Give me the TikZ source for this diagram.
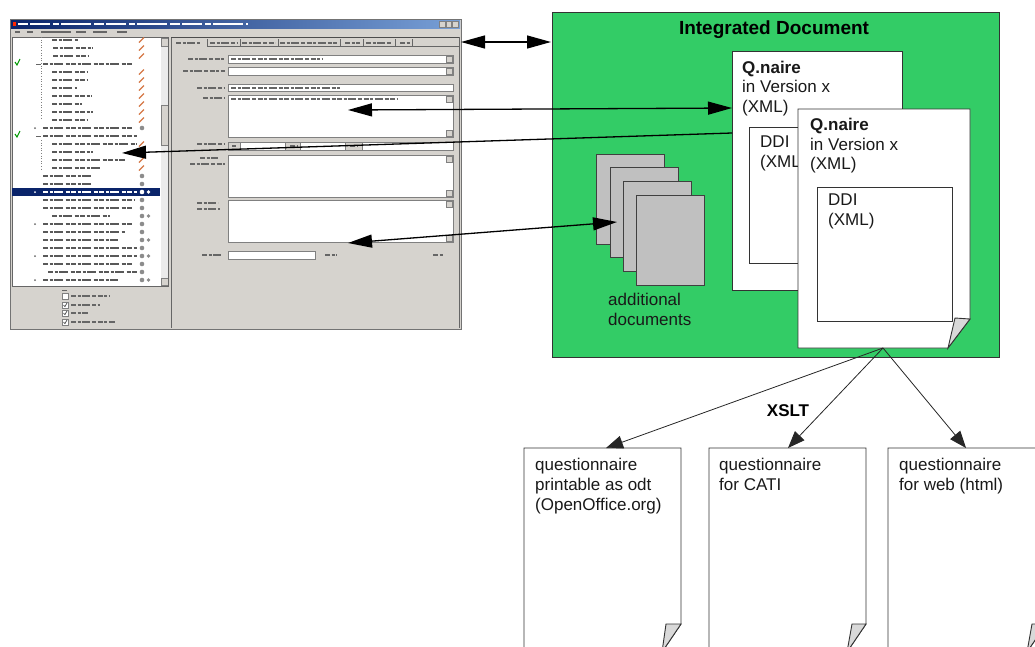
\documentclass[tikz,border=0pt]{standalone}
\usepackage{fontspec}
\setmainfont{Liberation Sans}
\usetikzlibrary{arrows.meta}
\definecolor{docgreen}{RGB}{51,204,102}
\definecolor{winbg}{RGB}{214,211,206}
\definecolor{navy}{RGB}{10,36,106}
\definecolor{ltblue}{RGB}{120,160,215}
\definecolor{pencilc}{RGB}{214,120,70}
\definecolor{docgray}{RGB}{192,192,192}
\definecolor{foldgray}{RGB}{217,217,217}
\tikzset{
 lbl/.style={font=\fontsize{17}{20}\selectfont, anchor=base west, inner sep=0pt, text=black!90},
 lblb/.style={lbl, font=\fontsize{17}{20}\selectfont\bfseries},
 page/.style={draw=black!80, line width=0.9pt, fill=white},
 foldc/.style={draw=black!80, line width=0.9pt, fill=foldgray},
 bigone/.style={line width=1.3pt, -{Triangle[length=24pt,width=13pt]}},
 bigboth/.style={line width=1.3pt, {Triangle[length=24pt,width=13pt]}-{Triangle[length=24pt,width=13pt]}},
 thinarr/.style={line width=0.8pt, draw=black!85, -{Triangle[length=17pt,width=13pt]}},
 txt/.style={line width=2.6pt, draw=black!65, dash pattern=on 5pt off 1.5pt on 3pt off 1.5pt on 9pt off 2.5pt on 4pt off 1.5pt},
 stxt/.style={line width=2pt, draw=black!60, dash pattern=on 5pt off 1.5pt on 3pt off 1.5pt on 8pt off 2pt on 4pt off 1.5pt},
 field/.style={draw=black!50, line width=0.6pt, fill=white},
 btn/.style={draw=black!50, line width=0.5pt, fill=winbg},
 gdoc/.style={draw=black!75, line width=0.9pt, fill=docgray, minimum width=68pt, minimum height=90pt, anchor=north west, inner sep=0pt},
}
\begin{document}
\begin{tikzpicture}[x=1pt,y=-1pt]
\useasboundingbox (0,0) rectangle (1035,646);
\clip (0,0) rectangle (1035,646);

% ================= screenshot =================
\fill[winbg] (10,19) rectangle (461,329);
\draw[black!55, line width=0.8pt] (10,19) rectangle (461,329);
\shade[left color=navy, right color=ltblue] (11,20) rectangle (460,28);
\fill[red!70!orange] (13,22) rectangle (16,26);
\draw[white, line width=1.8pt, dash pattern=on 10pt off 2pt on 20pt off 3pt on 6pt off 2pt on 30pt off 3pt] (18,24) -- (248,24);
\foreach \a/\b in {439/445,446/451,452/458}{\draw[btn] (\a,21) rectangle (\b,27);}
\foreach \a/\b in {15/20,27/33,41/71,76/86,93/107,117/127}{\draw[black!60, line width=1.6pt] (\a,32) -- (\b,32);}

% tree panel
\fill[white] (12,37) rectangle (161,286);
\fill[black!8] (161,37) rectangle (168,286);
\draw[btn] (161,105) rectangle (168,145);
\draw[btn] (161,38) rectangle (168,46);
\draw[btn] (161,278) rectangle (168,285);
\draw[black!60, line width=0.7pt] (12,37) rectangle (168,286);
\draw[black!50, dotted, line width=0.6pt] (41,37) -- (41,120);
\draw[black!50, dotted, line width=0.6pt] (41,140) -- (41,170);
\fill[navy] (12,188) rectangle (160,196);
\foreach \k/\a/\b in {0/52/78,1/53/93,2/53/88,3/43/133,4/52/87,5/52/87,6/52/77,7/52/92,8/52/82,9/52/93,10/52/87,11/43/133,12/43/137,13/52/137,14/52/93,15/52/125,16/52/100,17/43/92,18/43/92,20/43/135,21/43/132,22/52/110,23/43/132,24/43/125,25/43/118,26/43/138,27/43/138,28/43/132,29/48/138,30/43/118}
 {\draw[txt] (\a,{40+8*\k}) -- (\b,{40+8*\k});}
\draw[txt, draw=white] (43,192) -- (137,192);
\fill[white] (35,192) circle (1pt);
\fill[white] (142,192) circle (2.3pt);
\fill[white] (148.5,192) circle (1.8pt);
\foreach \k in {0,1,2,4,5,6,7,8,9,10,13,15,16}
 {\draw[pencilc, line width=1.3pt] (139,{42.5+8*\k}) -- (144,{37.5+8*\k});}
\foreach \k in {11,17,18,20,21,22,23,24,25,26,27,28,29,30}
 {\fill[black!45] (142,{40+8*\k}) circle (2.3pt);}
\foreach \k in {22,25,27,30}
 {\fill[black!45] (148.5,{40+8*\k}) circle (1.8pt);}
\foreach \k in {11,23,27,30}{\fill[black!60] (35,{40+8*\k}) circle (1pt);}
\foreach \k in {3,12}{\draw[black!60, line width=1pt] (36,{40+8*\k}) -- (41,{40+8*\k});
 \draw[green!60!black, line width=1pt] (15,{38+8*\k}) -- (17,{41+8*\k}) -- (20,{35+8*\k});}

% below tree
\draw[black!60, line width=1pt] (62,290) -- (67,290);
\foreach \y/\b in {296/110,305/100,313/88,322/115}{
 \draw[field] (62,{\y-3}) rectangle (68,{\y+3});
 \draw[stxt] (71,\y) -- (\b,\y);}
\foreach \y in {305,313,322}{\draw[black!70, line width=0.7pt] (63.5,\y) -- (65,{\y+1.5}) -- (67,{\y-2});}

% right panel
\draw[black!60, line width=0.7pt] (171,37) -- (171,328);
\draw[black!70, line width=0.7pt] (171,37.5) -- (460,37.5);
\draw[black!60, line width=0.6pt] (207,46.5) -- (459,46.5);
\foreach \x in {207,240,278,340,363,395,412}{\draw[black!60, line width=0.6pt] (\x,39) -- (\x,46.5);}
\foreach \a/\b in {176/200,210/237,242/275,280/337,345/360,366/392,400/410}{\draw[stxt] (\a,43) -- (\b,43);}
\draw[black!60, line width=0.7pt] (459,37) -- (459,328);

\draw[field] (228,55) rectangle (453,63);  \draw[btn] (446,56) rectangle (452,62);
\draw[field] (228,67) rectangle (453,75);  \draw[btn] (446,68) rectangle (452,74);
\draw[field] (228,84) rectangle (453,91);
\draw[field] (228,95) rectangle (453,137); \draw[btn] (446,96) rectangle (452,102); \draw[btn] (446,130) rectangle (452,136);
\draw[btn] (228,142) rectangle (240,150);
\draw[field] (240,142) rectangle (285,150);
\draw[btn] (285,142) rectangle (300,150);
\draw[field] (300,142) rectangle (345,150);
\draw[btn] (345,142) rectangle (362,150);
\draw[field] (362,142) rectangle (453,150);
\draw[field] (228,155) rectangle (453,197); \draw[btn] (446,156) rectangle (452,162); \draw[btn] (446,190) rectangle (452,196);
\draw[field] (228,200) rectangle (453,242); \draw[btn] (446,201) rectangle (452,207); \draw[btn] (446,235) rectangle (452,241);
\draw[field] (228,251) rectangle (315,259);
\foreach \a/\b/\y in {231/323/59,231/340/87.5,231/397/99,188/225/59,183/225/71,197/225/87.5,203/225/98,197/224/144,200/218/158,190/225/164,197/218/203,197/220/209,202/222/255,325/337/255,433/443/255,290/298/146,350/358/146,232/236/146}
 {\draw[stxt] (\a,\y) -- (\b,\y);}

\coordinate (shotR) at (461,42);
\coordinate (fieldB) at (348,110);
\coordinate (treeC) at (122,153);
\coordinate (fieldD) at (348,243);

% ================= integrated document =================
\node[draw=black!80, line width=0.9pt, fill=docgreen, minimum width=447pt, minimum height=345pt, anchor=north west, inner sep=0pt] (green) at (552,12) {};
\node[font=\fontsize{19}{22}\selectfont\bfseries, anchor=base, inner sep=0pt] (title) at (774,34) {Integrated Document};

\node[page, minimum width=170pt, minimum height=239pt, anchor=north west, inner sep=0pt] (q1) at (732,51) {};
\node[lblb] (q1a) at (742,73) {Q.naire};
\node[lbl] (q1b) at (742,92) {in Version x};
\node[lbl] (q1c) at (742,112) {(XML)};
\node[draw=black!80, line width=0.9pt, fill=white, minimum width=110pt, minimum height=136pt, anchor=north west, inner sep=0pt] (ddi1) at (749,127) {};
\node[lbl] (ddi1a) at (760,147) {DDI};
\node[lbl] (ddi1b) at (760,167) {(XML)};

\draw[page] (798,109) -- (970,109) -- (970,319) -- (948,348) -- (798,348) -- cycle;
\draw[foldc] (955,318) -- (970,319) -- (948,348) -- cycle;
\node[lblb] (q2a) at (810,130) {Q.naire};
\node[lbl] (q2b) at (810,150) {in Version x};
\node[lbl] (q2c) at (810,169) {(XML)};
\node[draw=black!80, line width=0.9pt, fill=white, minimum width=135pt, minimum height=134pt, anchor=north west, inner sep=0pt] (ddi2) at (817,187) {};
\node[lbl] (ddi2a) at (828,205) {DDI};
\node[lbl] (ddi2b) at (828,225) {(XML)};

\node[gdoc] (ad1) at (596,154) {};
\node[gdoc] (ad2) at (610,167) {};
\node[gdoc] (ad3) at (623,181) {};
\node[gdoc] (ad4) at (636,195) {};
\node[lbl] (adt1) at (608,305) {additional};
\node[lbl] (adt2) at (608,325) {documents};

\coordinate (greenL) at (551,42);
\coordinate (q1B) at (732,108);
\coordinate (q1C) at (732,133);
\coordinate (adD) at (617,222);
\coordinate (src) at (883,348);

% ================= output documents =================
\draw[page] (524,448) -- (681,448) -- (681,624) -- (662,652) -- (524,652) -- cycle;
\draw[foldc] (666,624) -- (681,624) -- (662,652) -- cycle;
\draw[page] (709,448) -- (866,448) -- (866,624) -- (847,652) -- (709,652) -- cycle;
\draw[foldc] (852,624) -- (866,624) -- (847,652) -- cycle;
\draw[page] (888,448) -- (1046,448) -- (1046,624) -- (1027,652) -- (888,652) -- cycle;
\draw[foldc] (1032,624) -- (1046,624) -- (1027,652) -- cycle;
\coordinate (d1) at (606,448);
\coordinate (d2) at (788,448);
\coordinate (d3) at (966,448);
\node[lbl] (d1a) at (535,470) {questionnaire};
\node[lbl] (d1b) at (535,490) {printable as odt};
\node[lbl] (d1c) at (535,510) {(OpenOffice.org)};
\node[lbl] (d2a) at (719,470) {questionnaire};
\node[lbl] (d2b) at (719,490) {for CATI};
\node[lbl] (d3a) at (899,470) {questionnaire};
\node[lbl] (d3b) at (899,490) {for web (html)};
\node[font=\fontsize{17}{20}\selectfont\bfseries, anchor=base, inner sep=0pt] (xslt) at (788,416) {XSLT};

% ================= connectors =================
\draw[bigboth] (shotR) -- (greenL);
\draw[bigboth] (fieldB) -- (q1B);
\draw[bigone] (q1C) -- (treeC);
\draw[bigboth] (fieldD) -- (adD);
\draw[thinarr] (src) -- (d1);
\draw[thinarr] (src) -- (d2);
\draw[thinarr] (src) -- (d3);
\end{tikzpicture}
\end{document}
